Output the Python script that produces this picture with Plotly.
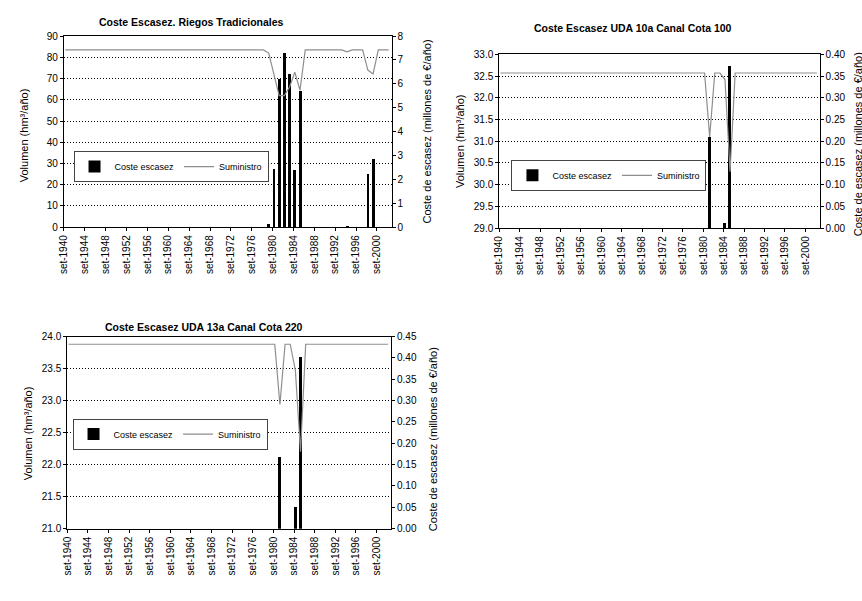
import plotly.graph_objects as go

# ---------------- data ----------------
YEARS = list(range(1940, 2003))
TICK_YEARS = list(range(1940, 2001, 4))
TICK_TEXT = ["set-%d" % y for y in TICK_YEARS]

# Riegos Tradicionales
SUM_RT = [
    83.5, 83.5, 83.5, 83.5, 83.5, 83.5, 83.5, 83.5, 83.5, 83.5,   # 1940-49
    83.5, 83.5, 83.5, 83.5, 83.5, 83.5, 83.5, 83.5, 83.5, 83.5,   # 1950-59
    83.5, 83.5, 83.5, 83.5, 83.5, 83.5, 83.5, 83.5, 83.5, 83.5,   # 1960-69
    83.5, 83.5, 83.5, 83.5, 83.5, 83.5, 83.5, 83.5, 83.5, 82.0,   # 1970-79
    72.0, 62.0, 62.0, 66.0, 73.0, 64.5, 83.5, 83.5, 83.5, 83.5,   # 1980-89
    83.5, 83.5, 83.5, 83.5, 82.6, 83.5, 83.5, 83.5, 74.0, 72.2,   # 1990-99
    83.5, 83.5, 83.5,                                             # 2000-02
]
COST_RT_YEARS = [1979, 1980, 1981, 1982, 1983, 1984, 1985, 1994, 1998, 1999]
COST_RT = [0.12, 2.45, 6.22, 7.30, 6.43, 2.39, 5.68, 0.05, 2.22, 2.86]

# UDA 10a Canal Cota 100
SUM_10A = [
    32.57, 32.57, 32.57, 32.57, 32.57, 32.57, 32.57, 32.57, 32.57, 32.57,
    32.57, 32.57, 32.57, 32.57, 32.57, 32.57, 32.57, 32.57, 32.57, 32.57,
    32.57, 32.57, 32.57, 32.57, 32.57, 32.57, 32.57, 32.57, 32.57, 32.57,
    32.57, 32.57, 32.57, 32.57, 32.57, 32.57, 32.57, 32.57, 32.57, 32.57,
    32.57, 31.10, 32.57, 32.57, 32.42, 30.30, 32.57, 32.57, 32.57, 32.57,
    32.57, 32.57, 32.57, 32.57, 32.57, 32.57, 32.57, 32.57, 32.57, 32.57,
    32.57, 32.57, 32.57,
]
COST_10A_YEARS = [1981, 1984, 1985]
COST_10A = [0.21, 0.011, 0.372]

# UDA 13a Canal Cota 220
SUM_13A = [
    23.88, 23.88, 23.88, 23.88, 23.88, 23.88, 23.88, 23.88, 23.88, 23.88,
    23.88, 23.88, 23.88, 23.88, 23.88, 23.88, 23.88, 23.88, 23.88, 23.88,
    23.88, 23.88, 23.88, 23.88, 23.88, 23.88, 23.88, 23.88, 23.88, 23.88,
    23.88, 23.88, 23.88, 23.88, 23.88, 23.88, 23.88, 23.88, 23.88, 23.88,
    23.88, 22.94, 23.88, 23.88, 23.47, 22.20, 23.88, 23.88, 23.88, 23.88,
    23.88, 23.88, 23.88, 23.88, 23.88, 23.88, 23.88, 23.88, 23.88, 23.88,
    23.88, 23.88, 23.88,
]
COST_13A_YEARS = [1981, 1984, 1985]
COST_13A = [0.17, 0.051, 0.402]

TITLES = ["Coste Escasez. Riegos Tradicionales",
          "Coste Escasez UDA 10a Canal Cota 100",
          "Coste Escasez UDA 13a Canal Cota 220"]
LEFT_TITLE = "Volumen (hm³/año)"
RIGHT_TITLE = "Coste de escasez (millones de €/año)"

# ---------------- layout constants ----------------
W, H = 862, 601
OFF = 0.25          # position of the annual value inside the year
BAR_W = 0.55
NARROW = "Liberation Sans Narrow, Arial Narrow, Liberation Sans, sans-serif"
SANS = "Liberation Sans, Arial, sans-serif"
LINE_COLOR = "#8e8e8e"

def px(x):
    return x / W

def py(y):
    return 1 - y / H

charts = [
    dict(sum=SUM_RT, cyears=COST_RT_YEARS, cost=COST_RT,
         xdom=[px(58.3), px(388.3)], ydom=[py(225.7), py(30.7)],
         lrange=[0, 90], ldtick=10, lfmt="d",
         rrange=[0, 8], rdtick=1, rfmt="d",
         title_xy=(187, 16), lt_xy=(18, 132), rt_xy=(424, 128),
         leg_xy=(68, 148)),
    dict(sum=SUM_10A, cyears=COST_10A_YEARS, cost=COST_10A,
         xdom=[px(496.7), px(819.3)], ydom=[py(226.7), py(49.3)],
         lrange=[29, 33], ldtick=0.5, lfmt=".1f",
         rrange=[0, 0.40], rdtick=0.05, rfmt=".2f",
         title_xy=(631, 22), lt_xy=(457, 138), rt_xy=(858, 141),
         leg_xy=(509, 157)),
    dict(sum=SUM_13A, cyears=COST_13A_YEARS, cost=COST_13A,
         xdom=[px(61.7), px(387.7)], ydom=[py(533.3), py(337.3)],
         lrange=[21, 24], ldtick=0.5, lfmt=".1f",
         rrange=[0, 0.45], rdtick=0.05, rfmt=".2f",
         title_xy=(199, 328), lt_xy=(22, 436), rt_xy=(430, 442),
         leg_xy=(67, 421)),
]

fig = go.Figure()
layout = dict(width=W, height=H, margin=dict(l=0, r=0, t=0, b=0),
              paper_bgcolor="white", plot_bgcolor="white",
              showlegend=True, annotations=[], bargap=0)

for i, c in enumerate(charts):
    n = i + 1
    xid = "x" if n == 1 else "x%d" % n
    yb = 2 * n - 1   # bars axis (right)
    yl = 2 * n       # line axis (left)
    ybid = "y" if yb == 1 else "y%d" % yb
    ylid = "y%d" % yl
    legname = "legend" if n == 1 else "legend%d" % n

    fig.add_trace(go.Bar(
        x=[y + OFF for y in c["cyears"]], y=c["cost"], width=BAR_W,
        marker=dict(color="black", line=dict(width=0)),
        name="Coste escasez", xaxis=xid, yaxis=ybid, legend=legname))
    fig.add_trace(go.Scatter(
        x=[y + OFF for y in YEARS], y=c["sum"], mode="lines",
        line=dict(color=LINE_COLOR, width=1.2),
        name="Suministro", xaxis=xid, yaxis=ylid, legend=legname))

    xkey = "xaxis" if n == 1 else "xaxis%d" % n
    layout[xkey] = dict(
        domain=c["xdom"], anchor=ybid, range=[1940, 2002.8],
        tickmode="array", tickvals=TICK_YEARS, ticktext=TICK_TEXT,
        tickangle=-90, ticks="outside", ticklen=3, tickcolor="black",
        showline=True, linecolor="black", linewidth=1, mirror=True,
        showgrid=False, zeroline=False,
        tickfont=dict(family=SANS, size=10, color="black"))
    layout["yaxis" if yb == 1 else "yaxis%d" % yb] = dict(
        domain=c["ydom"], anchor=xid, side="right",
        range=c["rrange"], dtick=c["rdtick"], tick0=0, tickformat=c["rfmt"],
        ticks="outside", ticklen=3, tickcolor="black",
        showline=True, linecolor="black", linewidth=1,
        showgrid=False, zeroline=False,
        tickfont=dict(family=SANS, size=10, color="black"))
    layout["yaxis%d" % yl] = dict(
        overlaying=ybid, anchor=xid, side="left",
        range=c["lrange"], dtick=c["ldtick"], tick0=c["lrange"][0],
        tickformat=c["lfmt"],
        ticks="outside", ticklen=3, tickcolor="black",
        showline=True, linecolor="black", linewidth=1,
        showgrid=True, gridcolor="black", gridwidth=1, griddash="1px,2px",
        zeroline=False,
        tickfont=dict(family=SANS, size=10, color="black"))
    layout[legname] = dict(
        orientation="h", x=px(c["leg_xy"][0]), y=py(c["leg_xy"][1]),
        xanchor="left", yanchor="top", bgcolor="white",
        bordercolor="#444444", borderwidth=1,
        font=dict(family=NARROW, size=9, color="black"),
        itemwidth=30, traceorder="normal")

    tx, ty = c["title_xy"]
    layout["annotations"].append(dict(
        text="<b>%s</b>" % TITLES[i], x=px(tx), y=py(ty), xref="paper", yref="paper",
        showarrow=False, xanchor="center", yanchor="middle",
        font=dict(family=NARROW, size=10.5, color="black")))
    lx, ly = c["lt_xy"]
    layout["annotations"].append(dict(
        text=LEFT_TITLE, x=px(lx), y=py(ly), xref="paper", yref="paper",
        showarrow=False, xanchor="center", yanchor="middle", textangle=-90,
        font=dict(family=SANS, size=11, color="black")))
    rx, ry = c["rt_xy"]
    layout["annotations"].append(dict(
        text=RIGHT_TITLE, x=px(rx), y=py(ry), xref="paper", yref="paper",
        showarrow=False, xanchor="center", yanchor="middle", textangle=-90,
        font=dict(family=SANS, size=11, color="black")))

fig.update_layout(**layout)
fig.write_html("out.html", config={"displayModeBar": False},
               post_script="document.body.style.margin='0';document.body.style.overflow='hidden';")
